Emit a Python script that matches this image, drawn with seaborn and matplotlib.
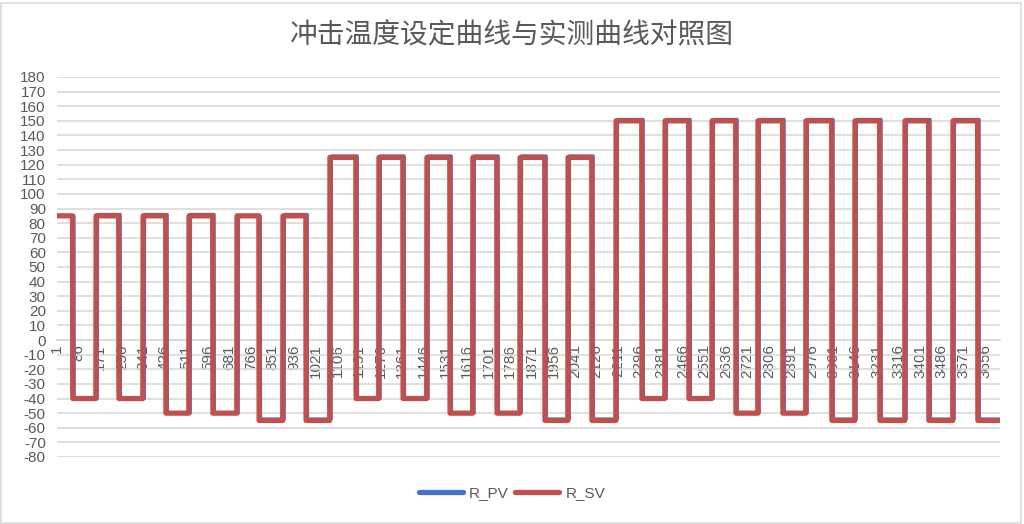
#!/usr/bin/env python3
"""Shock temperature set curve vs measured curve (Excel-style line chart)."""

import matplotlib
matplotlib.use("Agg")
import matplotlib.pyplot as plt
import matplotlib.patches as mpatches
import numpy as np
import pandas as pd
import seaborn as sns

TITLE = "冲击温度设定曲线与实测曲线对照图"

# set-value levels of each step segment
sv_levels = [85, -40, 85, -40, 85, -50, 85, -50, 85, -55, 85, -55,
             125, -40, 125, -40, 125, -50, 125, -50, 125, -55, 125, -55,
             150, -40, 150, -40, 150, -50, 150, -50, 150, -55, 150, -55,
             150, -55, 150, -55]
# last sample index of each segment
seg_ends = [62, 154, 244, 339, 429, 520, 614, 709, 796, 890, 981, 1075,
            1178, 1268, 1363, 1457, 1548, 1638, 1733, 1824, 1922, 2013, 2107, 2202,
            2304, 2395, 2489, 2580, 2674, 2761, 2859, 2950, 3052, 3143, 3241, 3340,
            3434, 3529, 3627, 3715]
# measured levels (track the set value closely)
pv_levels = [85, -40, 86, -40, 86, -50, 86, -50, 85, -54, 86, -54,
             126, -40, 126, -40, 126, -50, 126, -50, 126, -54, 126, -54,
             151, -40, 151, -40, 151, -50, 151, -50, 151, -54, 151, -54,
             151, -54, 151, -54]
pv_lag = 6  # measured curve follows the set point a few samples later

x_ticks = list(range(1, 3657, 85))
y_ticks = list(range(-80, 181, 10))

BLUE = "#4472C4"
RED = "#C0504D"
GREY_TXT = "#595959"
GRID = "#D9D9D9"


def build_steps(levels, ends, lag=0):
    lengths = np.diff([0] + ends)
    vals = np.repeat(levels, lengths).astype(float)
    if lag:
        vals = np.concatenate([np.full(lag, levels[0]), vals[:-lag]])
    return vals


def main() -> None:
    sns.set_theme(style="white")
    plt.rcParams["font.family"] = ["Liberation Sans", "Noto Sans CJK SC", "DejaVu Sans"]

    n = seg_ends[-1]
    idx = np.arange(1, n + 1)
    sv = build_steps(sv_levels, seg_ends)
    pv = build_steps(pv_levels, seg_ends, pv_lag)
    df = pd.concat([
        pd.DataFrame({"idx": idx, "val": pv, "series": "R_PV"}),
        pd.DataFrame({"idx": idx, "val": sv, "series": "R_SV"}),
    ])

    fig = plt.figure(figsize=(10.24, 5.24), dpi=100)
    ax = fig.add_axes([56.9 / 1024, 67 / 524, 943.2 / 1024, 380 / 524])

    sns.lineplot(data=df[df.series == "R_PV"], x="idx", y="val", ax=ax,
                 color=BLUE, lw=2.2, estimator=None, sort=False, label="R_PV")
    sns.lineplot(data=df[df.series == "R_SV"], x="idx", y="val", ax=ax,
                 color=RED, lw=3.8, estimator=None, sort=False, label="R_SV")

    # category axis crosses at 0, as in Excel
    for side in ("top", "right", "left"):
        ax.spines[side].set_visible(False)
    ax.spines["bottom"].set_position(("data", 0))
    ax.spines["bottom"].set_color(GRID)
    ax.spines["bottom"].set_linewidth(1.2)
    ax.spines["bottom"].set_zorder(0)

    ax.set_xlim(0.5, n + 0.5)
    ax.set_ylim(-80, 180)
    ax.set_yticks(y_ticks)
    ax.set_yticklabels([str(v) for v in y_ticks])
    ax.set_xticks(x_ticks)
    ax.set_xticklabels([str(v) for v in x_ticks])
    ax.tick_params(axis="y", length=0, pad=8, labelsize=11, labelcolor=GREY_TXT)
    ax.tick_params(axis="x", length=0, pad=3, labelsize=11, labelcolor=GREY_TXT,
                   labelrotation=90)
    for lab in ax.get_xticklabels():
        lab.set_va("top")
    ax.yaxis.grid(True, color=GRID, lw=1.2)
    ax.set_axisbelow(True)
    ax.set_xlabel("")
    ax.set_ylabel("")

    handles, labels = ax.get_legend_handles_labels()
    ax.get_legend().remove()
    leg = fig.legend(handles, labels, loc="center", bbox_to_anchor=(0.5, 1 - 493 / 524),
                     ncol=2, frameon=False, handlelength=2.9, columnspacing=0.4,
                     handletextpad=0.4, fontsize=11)
    for line in leg.get_lines():
        line.set_linewidth(3.8)
    for t in leg.get_texts():
        t.set_color(GREY_TXT)

    fig.text(0.5, 1 - 35 / 524, TITLE, ha="center", va="center", fontsize=20,
             color=GREY_TXT, family=["Noto Sans CJK SC", "DejaVu Sans"])

    fig.patches.append(mpatches.Rectangle((1 / 1024, 1 / 524), 1020 / 1024, 520 / 524,
                                          transform=fig.transFigure, fill=False,
                                          ec=GRID, lw=1.2))

    fig.savefig("out.png", dpi=100, facecolor="white")
    plt.close(fig)


if __name__ == "__main__":
    main()
